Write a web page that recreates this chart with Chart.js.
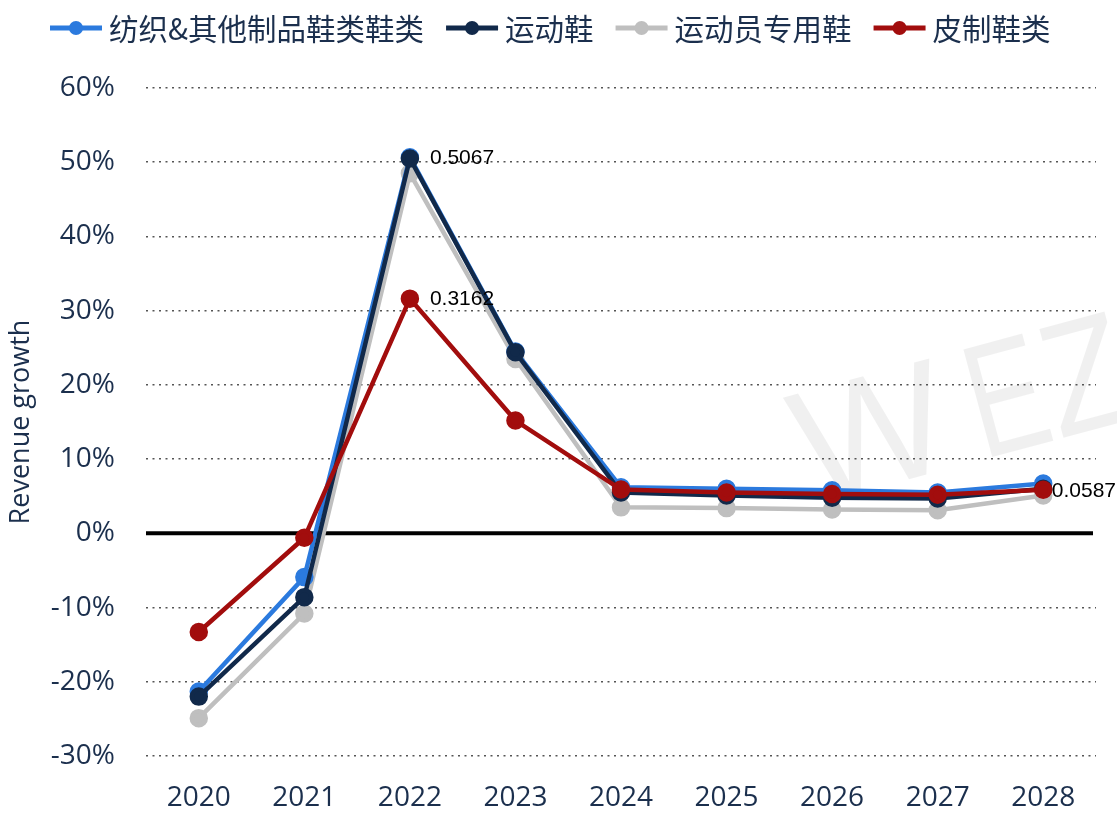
<!DOCTYPE html>
<html><head><meta charset="utf-8">
<script src="https://cdn.jsdelivr.net/npm/chart.js@4.4.0/dist/chart.umd.min.js"></script>
<style>html,body{margin:0;padding:0;background:#fff}#wrap{width:1117px;height:813px}</style>
</head><body><div id="wrap"><canvas id="c" width="1117" height="813"></canvas></div>
<script>
const categories = ['2020','2021','2022','2023','2024','2025','2026','2027','2028'];
const seriesNames = ['纺织&其他制品鞋类鞋类','运动鞋','运动员专用鞋','皮制鞋类'];
const textileValues = [-0.213, -0.059, 0.5067, 0.245, 0.062, 0.060, 0.058, 0.055, 0.067];
const sportsValues  = [-0.220, -0.086, 0.505, 0.244, 0.055, 0.051, 0.048, 0.047, 0.060];
const athleteValues = [-0.249, -0.108, 0.485, 0.235, 0.035, 0.034, 0.032, 0.031, 0.051];
const leatherValues = [-0.133, -0.006, 0.3162, 0.152, 0.059, 0.055, 0.053, 0.052, 0.0587];
const yTicks = [-0.3,-0.2,-0.1,0,0.1,0.2,0.3,0.4,0.5,0.6];
const colors = ['#2b7ade','#11294a','#bfbfbf','#a20d0d'];
const drawOrder = [2,1,3,0];
const annotations = [{ds:0, idx:2}, {ds:3, idx:2}, {ds:3, idx:8}];

const TXT = '#1b2f4d';
const valueSets = [textileValues, sportsValues, athleteValues, leatherValues];

const datasets = valueSets.map((v,i)=>({
  label: seriesNames[i], data: v, borderColor: colors[i], backgroundColor: colors[i],
  pointBackgroundColor: colors[i], pointBorderColor: colors[i],
  borderWidth: 4.5, pointRadius: 7, pointHoverRadius: 7, order: drawOrder[i], tension: 0
}));

const bgPlugin = {
  id:'bg',
  beforeDraw(chart){
    const ctx = chart.ctx;
    ctx.save();
    ctx.fillStyle='#fff'; ctx.fillRect(0,0,chart.width,chart.height);
    ctx.translate(813, 505);
    ctx.rotate(-15*Math.PI/180);
    ctx.font = '162px "Liberation Sans", sans-serif';
    ctx.fillStyle = 'rgba(0,0,0,0.06)';
    ctx.textAlign='left'; ctx.textBaseline='alphabetic';
    ctx.fillText('W', -2, 0);
    ctx.save(); ctx.translate(176,0); ctx.scale(0.72,1); ctx.fillText('E', 0, 0); ctx.restore();
    ctx.save(); ctx.translate(255,0); ctx.scale(0.85,1); ctx.fillText('Z', 0, 0); ctx.restore();
    ctx.restore();
  },
  beforeDatasetsDraw(chart){
    const ctx = chart.ctx, y = chart.scales.y.getPixelForValue(0), a = chart.chartArea;
    ctx.save(); ctx.strokeStyle='#000'; ctx.lineWidth=4;
    ctx.beginPath(); ctx.moveTo(a.left, y); ctx.lineTo(a.right-3, y); ctx.stroke(); ctx.restore();
  },
  afterDatasetsDraw(chart){
    const ctx = chart.ctx;
    ctx.save(); ctx.font='21px "Liberation Sans", Arial, sans-serif'; ctx.fillStyle='#000';
    ctx.textBaseline='middle'; ctx.textAlign='left';
    annotations.forEach(a=>{
      const p = chart.getDatasetMeta(a.ds).data[a.idx];
      const t = String(valueSets[a.ds][a.idx]);
      const w = ctx.measureText(t).width;
      const x = Math.min(p.x+20, chart.width - w - 1);
      ctx.fillText(t, x, p.y+1);
    });
    ctx.restore();
  },
  afterDraw(chart){
    const ctx = chart.ctx;
    ctx.save();
    ctx.font = '29.5px "Noto Sans CJK SC", sans-serif';
    ctx.textBaseline='middle'; ctx.textAlign='left';
    const markW = 52, gapT = 7, gapI = 22, cy = 28;
    const widths = seriesNames.map(n=>ctx.measureText(n).width);
    let x = 50;
    seriesNames.forEach((n,i)=>{
      ctx.strokeStyle=colors[i]; ctx.fillStyle=colors[i]; ctx.lineWidth=5;
      ctx.beginPath(); ctx.moveTo(x, cy); ctx.lineTo(x+markW, cy); ctx.stroke();
      ctx.beginPath(); ctx.arc(x+markW/2, cy, 7, 0, Math.PI*2); ctx.fill();
      ctx.fillStyle=TXT; ctx.fillText(n, x+markW+gapT, cy+1);
      x += markW+gapT+widths[i]+gapI;
    });
    ctx.restore();
  }
};

new Chart(document.getElementById('c'), {
  type:'line',
  data:{labels:categories, datasets},
  plugins:[bgPlugin],
  options:{
    responsive:false, animation:false,
    layout:{padding:{top:88, right:21, left:5, bottom:0}},
    plugins:{legend:{display:false}, tooltip:{enabled:false}},
    scales:{
      x:{
        offset:true,
        grid:{display:false, drawTicks:false},
        border:{display:false},
        ticks:{color:TXT, font:{family:'"Open Sans", sans-serif', size:28}, padding:25, maxRotation:0},
        afterFit(s){ s.height = 57; }
      },
      y:{
        min:-0.3, max:0.6,
        afterBuildTicks(s){ s.ticks = yTicks.map(v=>({value:v})); },
        grid:{color:(c)=> (c.tick && Math.abs(c.tick.value)<1e-9) ? 'rgba(0,0,0,0)' : '#555', lineWidth:1.5, drawTicks:false},
        border:{display:false, dash:[2,4.5]},
        ticks:{color:TXT, font:{family:'"Open Sans", sans-serif', size:28}, padding:31,
          callback:(v)=> Math.round(v*100)+'%'},
        title:{display:true, text:'Revenue growth', color:TXT, font:{family:'"Open Sans", sans-serif', size:27}, padding:{top:0,bottom:0}},
        afterFit(s){ s.width = 141; }
      }
    }
  }
});
</script></body></html>
